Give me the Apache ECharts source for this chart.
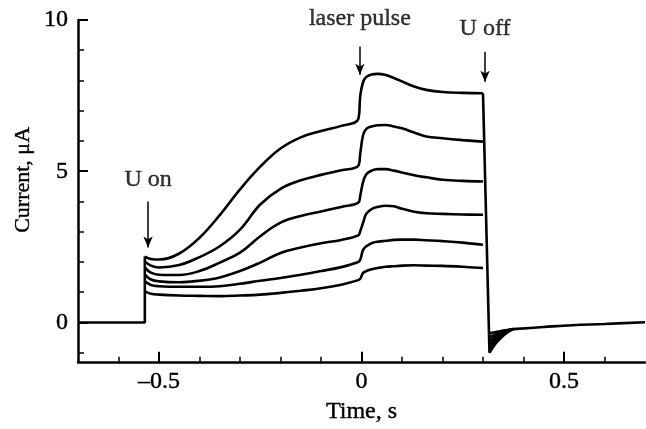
<!DOCTYPE html>
<html>
<head>
<meta charset="utf-8">
<script src="https://cdn.jsdelivr.net/npm/echarts@6/dist/echarts.min.js"></script>
<style>html,body{margin:0;padding:0;background:#fff}#c{width:646px;height:429px}</style>
</head>
<body>
<div id="c"></div>
<script>
// ---- data ----
const time = [-0.535, -0.52, -0.50, -0.45, -0.40, -0.35, -0.30, -0.25, -0.20, -0.15, -0.10, -0.05, -0.008, -0.003, 0.004, 0.012, 0.025, 0.04, 0.06, 0.08, 0.10, 0.13, 0.16, 0.20, 0.25, 0.30];
const curve1 = [2.18, 2.10, 2.08, 2.28, 2.80, 3.55, 4.40, 5.15, 5.75, 6.12, 6.33, 6.50, 6.72, 7.50, 7.95, 8.12, 8.20, 8.22, 8.18, 8.08, 7.97, 7.80, 7.69, 7.62, 7.59, 7.58];
const curve2 = [2.02, 1.88, 1.82, 1.90, 2.16, 2.52, 3.07, 3.90, 4.42, 4.70, 4.88, 5.03, 5.18, 5.60, 6.20, 6.40, 6.48, 6.52, 6.53, 6.48, 6.42, 6.28, 6.15, 6.09, 6.03, 5.98];
const curve3 = [1.81, 1.65, 1.58, 1.57, 1.70, 1.98, 2.31, 2.85, 3.30, 3.52, 3.67, 3.82, 3.96, 4.20, 4.65, 4.90, 5.02, 5.07, 5.07, 5.02, 4.96, 4.87, 4.80, 4.72, 4.68, 4.66];
const curve4 = [1.58, 1.42, 1.36, 1.33, 1.38, 1.49, 1.70, 1.98, 2.30, 2.48, 2.62, 2.73, 2.88, 3.02, 3.30, 3.60, 3.75, 3.82, 3.86, 3.84, 3.76, 3.66, 3.61, 3.59, 3.57, 3.56];
const curve5 = [1.36, 1.24, 1.20, 1.18, 1.18, 1.20, 1.28, 1.38, 1.47, 1.58, 1.70, 1.83, 2.00, 2.08, 2.40, 2.52, 2.62, 2.67, 2.70, 2.73, 2.74, 2.74, 2.72, 2.69, 2.64, 2.57];
const curve6 = [1.03, 0.95, 0.92, 0.89, 0.88, 0.87, 0.89, 0.92, 0.98, 1.05, 1.13, 1.25, 1.40, 1.45, 1.64, 1.70, 1.76, 1.80, 1.84, 1.86, 1.88, 1.89, 1.88, 1.87, 1.84, 1.80];

const baseT = [-0.7, -0.535, -0.535];
const baseV = [0, 0, 2.18];
const dropT = [0.300, 0.316];
const dropV = [7.58, -1.0];
const recT = [0.316, 0.33, 0.345, 0.36, 0.374];
const rec1 = [-1.00, -0.72, -0.50, -0.33, -0.22];
const rec2 = [-0.87, -0.63, -0.45, -0.31, -0.22];
const rec3 = [-0.74, -0.55, -0.41, -0.29, -0.22];
const rec4 = [-0.61, -0.47, -0.36, -0.27, -0.22];
const rec5 = [-0.48, -0.40, -0.32, -0.26, -0.22];
const rec6 = [-0.36, -0.32, -0.28, -0.25, -0.22];
const tailT = [0.374, 0.45, 0.52, 0.60, 0.70];
const tailV = [-0.22, -0.15, -0.09, -0.05, 0.01];

const xMajor = [-0.5, 0, 0.5];
const xMinor = [-0.6, -0.4, -0.3, -0.2, -0.1, 0.1, 0.2, 0.3, 0.4, 0.6];
const yMajor = [0, 5, 10];
const yMinor = [-1, 1, 2, 3, 4, 6, 7, 8, 9];

const annoText = ['U on', 'laser pulse', 'U off'];
const annoX = [-0.527, -0.004, 0.305];
const annoTextY = [4.72, 10.05, 9.71];
const arrowTop = [4.0, 9.12, 8.95];
const arrowBottom = [2.48, 8.19, 7.96];

// ---- chart ----
const FONT = "'Liberation Serif','Times New Roman',serif";
const DARK = { textBorderColor: '#000', textBorderWidth: 0.4 };
const zip = (a, b) => a.map((v, i) => [v, b[i]]);
const lineSeries = (data, smooth) => ({
  type: 'line', data, showSymbol: false, symbol: 'none', smooth: smooth ? 0.4 : false,
  lineStyle: { color: '#000', width: 2.6 }, silent: true, animation: false, z: 3
});

const series = [];
series.push(lineSeries(zip(baseT, baseV), false));
[curve1, curve2, curve3, curve4, curve5, curve6].forEach(c => series.push(lineSeries(zip(time, c), true)));
series.push(lineSeries(zip(dropT, dropV), false));
[rec1, rec2, rec3, rec4, rec5, rec6].forEach(r => series.push(lineSeries(zip(recT, r), true)));
series.push(lineSeries(zip(tailT, tailV), true));

// arrows
series.push({
  type: 'line', data: [], silent: true, animation: false,
  markLine: {
    silent: true, animation: false, symbol: ['none', 'arrow'], symbolSize: [7, 11],
    lineStyle: { color: '#000', width: 1.5, type: 'solid' }, label: { show: false },
    data: annoX.map((x, i) => [{ coord: [x, arrowTop[i]] }, { coord: [x, arrowBottom[i]] }])
  }
});
// annotation texts
series.push({
  type: 'scatter', symbolSize: 0, clip: false, silent: true, animation: false,
  data: annoX.map((x, i) => [x, annoTextY[i], annoText[i]]),
  label: Object.assign({ show: true, position: 'inside', formatter: p => p.data[2], color: '#000', fontFamily: FONT, fontSize: 24 }, DARK)
});

const axisBase = {
  type: 'value', splitLine: { show: false }, nameMoveOverlap: false
};
const option = {
  backgroundColor: '#fff',
  grid: { left: 78, right: 1, top: 20, bottom: 67, containLabel: false },
  xAxis: [
    Object.assign({}, axisBase, {
      min: -0.7, max: 0.7, position: 'bottom',
      axisLine: { show: true, onZero: false, lineStyle: { color: '#000', width: 2.5 } },
      axisTick: { show: true, inside: true, length: 10, lineStyle: { color: '#000', width: 2 }, customValues: xMajor },
      axisLabel: Object.assign({ customValues: xMajor, color: '#000', fontFamily: FONT, fontSize: 24, margin: 8,
        formatter: v => (v < 0 ? '\u2013' + String(-v) : String(v)) }, DARK),
      name: 'Time, s', nameLocation: 'middle', nameGap: 38,
      nameTextStyle: Object.assign({ color: '#000', fontFamily: FONT, fontSize: 24 }, DARK)
    }),
    Object.assign({}, axisBase, {
      min: -0.7, max: 0.7, position: 'bottom',
      axisLine: { show: false, onZero: false },
      axisTick: { show: true, inside: true, length: 5, lineStyle: { color: '#000', width: 1.5 }, customValues: xMinor },
      axisLabel: { show: false }
    })
  ],
  yAxis: [
    Object.assign({}, axisBase, {
      min: -1.3, max: 10, position: 'left',
      axisLine: { show: true, onZero: false, lineStyle: { color: '#000', width: 2.5 } },
      axisTick: { show: true, inside: true, length: 10, lineStyle: { color: '#000', width: 2 }, customValues: yMajor },
      axisLabel: Object.assign({ customValues: yMajor, color: '#000', fontFamily: FONT, fontSize: 24, margin: 10 }, DARK),
      name: 'Current, \u03bcA', nameLocation: 'middle', nameGap: 44, nameRotate: 90,
      nameTextStyle: Object.assign({ color: '#000', fontFamily: FONT, fontSize: 22, padding: [0, 0, 0, 22] }, DARK)
    }),
    Object.assign({}, axisBase, {
      min: -1.3, max: 10, position: 'left',
      axisLine: { show: false, onZero: false },
      axisTick: { show: true, inside: true, length: 6, lineStyle: { color: '#000', width: 1.5 }, customValues: yMinor },
      axisLabel: { show: false }
    })
  ],
  series
};
const chart = echarts.init(document.getElementById('c'), null, { renderer: 'canvas' });
chart.setOption(option);
</script>
</body>
</html>
